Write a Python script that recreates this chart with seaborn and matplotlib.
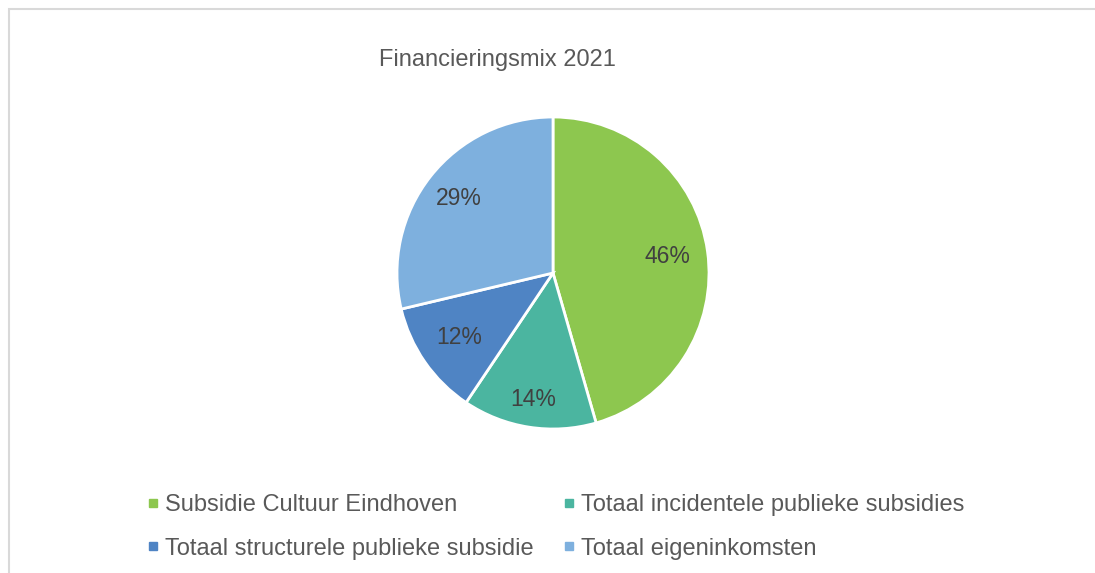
import matplotlib
matplotlib.use("Agg")
import matplotlib.pyplot as plt
import seaborn as sns
import numpy as np
from matplotlib.lines import Line2D
from matplotlib.patches import Rectangle

# data
categories = ["Subsidie Cultuur Eindhoven",
              "Totaal incidentele publieke subsidies",
              "Totaal structurele publieke subsidie",
              "Totaal eigeninkomsten"]
shares = [46, 14, 12, 29]
pie_colors = ["#8DC74F", "#4BB5A0", "#4F84C4", "#7EB0DE"]
title = "Financieringsmix 2021"

sns.set_theme(style="white")
plt.rcParams["font.family"] = ["Liberation Sans", "DejaVu Sans"]

fig = plt.figure(figsize=(10.95, 5.73), dpi=100)
fig.patch.set_facecolor("white")

# chart frame (cut off at right and bottom)
fig.patches.append(Rectangle((9 / 1095, -0.1), 1.2, 1 - 9 / 573 + 0.1,
                             transform=fig.transFigure, fill=False,
                             edgecolor="#D9D9D9", linewidth=1.5))

fig.text(497 / 1095, 1 - 60 / 573, title, ha="center", va="center",
         fontsize=17, color="#595959")

cx, cy, r = 553, 273, 156
ax = fig.add_axes([(cx - r) / 1095, 1 - (cy + r) / 573, 2 * r / 1095, 2 * r / 573])
wedges, texts, autotexts = ax.pie(
    shares, colors=pie_colors, startangle=90, counterclock=False,
    autopct="%1.0f%%", pctdistance=0.76,
    wedgeprops=dict(edgecolor="white", linewidth=2),
    textprops=dict(fontsize=16.5, color="#404040"))

# excel "best fit" puts the labels at slightly different distances
label_dist = [0.74, 0.82, 0.73, 0.77]
for t, d in zip(autotexts, label_dist):
    x, y = t.get_position()
    k = d / np.hypot(x, y)
    t.set_position((x * k, y * k))

ax.set_xlim(-1, 1)
ax.set_ylim(-1, 1)
ax.set_aspect("equal")
ax.axis("off")

# legend is filled row by row in the reference
order = [0, 2, 1, 3]
handles = [Line2D([], [], marker="s", linestyle="", markersize=5.5,
                  markerfacecolor=pie_colors[i], markeredgecolor=pie_colors[i])
           for i in order]
labels = [categories[i] for i in order]
leg = fig.legend(handles, labels, ncol=2, loc="center left",
                 bbox_to_anchor=(138 / 1095, 1 - 527 / 573),
                 frameon=False, fontsize=17, handlelength=0.5,
                 handletextpad=0.25, columnspacing=1.25, labelspacing=0.9,
                 borderaxespad=0)
for t in leg.get_texts():
    t.set_color("#595959")

fig.savefig("out.png", dpi=100)
